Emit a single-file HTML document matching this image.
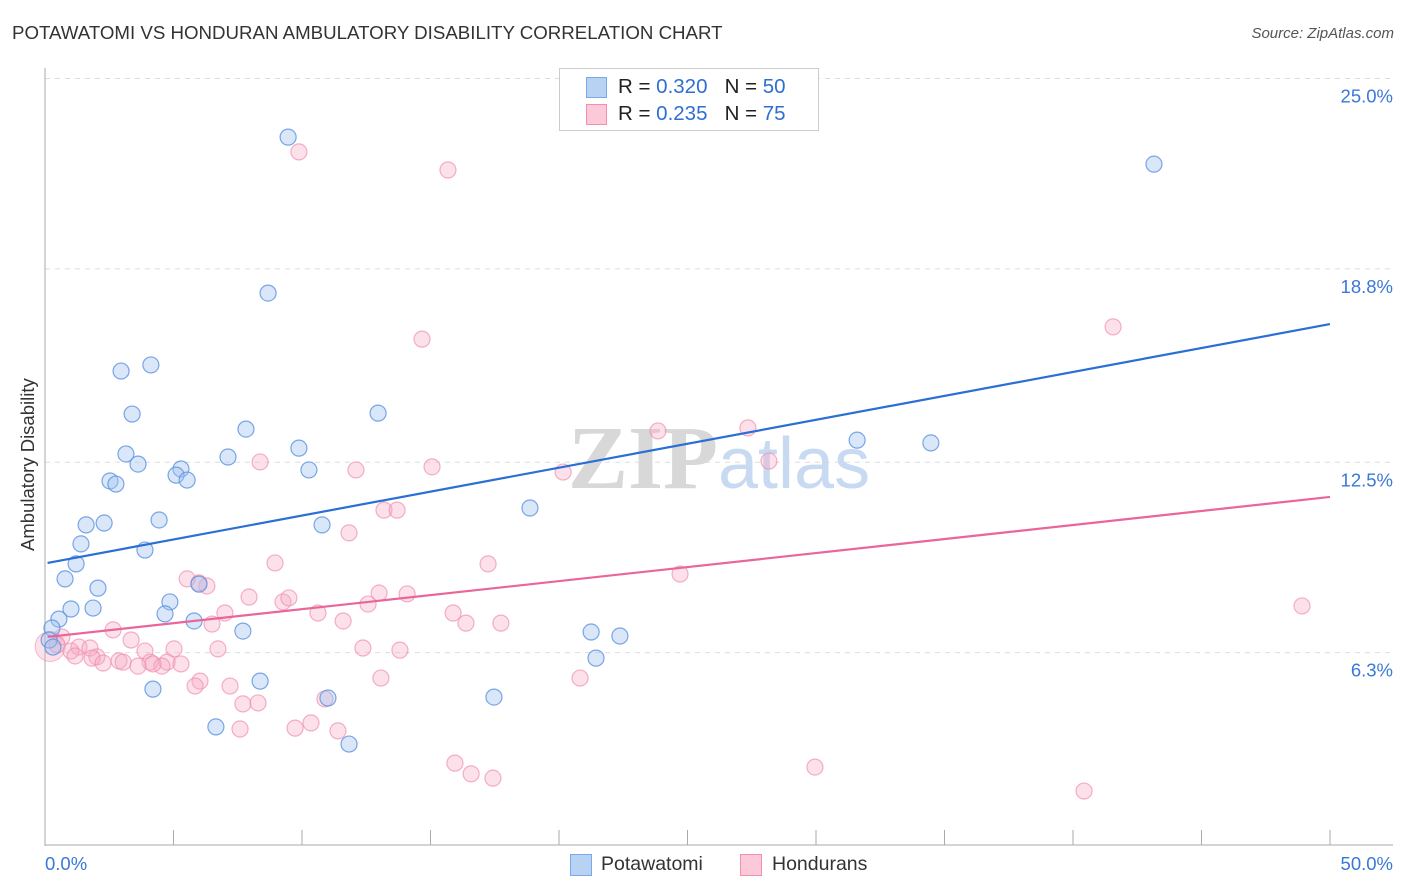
<!DOCTYPE html>
<html><head><meta charset="utf-8">
<style>
body{margin:0;background:#fff;font-family:"Liberation Sans",sans-serif;}
#wrap{position:relative;width:1406px;height:892px;overflow:hidden;}
.t{position:absolute;white-space:nowrap;}
</style></head>
<body>
<div id="wrap">
<div class="t" style="left:12px;top:22px;font-size:18.7px;color:#333;">POTAWATOMI VS HONDURAN AMBULATORY DISABILITY CORRELATION CHART</div>
<div class="t" style="right:12px;top:25px;font-size:15px;color:#555;font-style:italic;">Source: ZipAtlas.com</div>
<div class="t" style="font-size:18.5px;color:#333;transform:rotate(-90deg);transform-origin:0 0;left:17px;top:551px;">Ambulatory Disability</div>
<svg id="svg" width="1406" height="892" style="position:absolute;left:0;top:0;"></svg>
<div style="position:absolute;left:559px;top:68px;width:258px;height:61px;border:1px solid #ccc;background:#fff;">
 <div style="position:absolute;left:26px;top:8px;width:19px;height:19px;background:#b8d2f4;border:1px solid #7aaae6;"></div>
 <div class="t" style="left:58px;top:6px;font-size:20.5px;color:#222;">R = <span style="color:#2f6fd0">0.320</span> &nbsp;&nbsp;N = <span style="color:#2f6fd0">50</span></div>
 <div style="position:absolute;left:26px;top:35px;width:19px;height:19px;background:#fbc9d8;border:1px solid #f08fb0;"></div>
 <div class="t" style="left:58px;top:33px;font-size:20.5px;color:#222;">R = <span style="color:#2f6fd0">0.235</span> &nbsp;&nbsp;N = <span style="color:#2f6fd0">75</span></div>
</div>
<div style="position:absolute;left:570px;top:854px;width:20px;height:20px;background:#b8d2f4;border:1px solid #7aaae6;"></div>
<div class="t" style="left:601px;top:853px;font-size:19.5px;color:#333;">Potawatomi</div>
<div style="position:absolute;left:740px;top:854px;width:20px;height:20px;background:#fbc9d8;border:1px solid #f08fb0;"></div>
<div class="t" style="left:772px;top:853px;font-size:19.5px;color:#333;">Hondurans</div>
</div>
<script>
const blueX=[9.46,43.15,8.68,4.12,2.96,3.39,12.96,7.82,9.88,3.15,3.62,7.12,5.29,5.10,5.53,10.27,2.53,2.76,18.87,2.30,1.60,4.44,10.78,1.40,3.89,1.21,0.78,2.06,5.99,4.86,1.01,1.87,4.67,0.54,5.80,0.27,7.70,21.25,22.37,0.16,0.31,21.44,8.37,4.20,11.01,17.47,6.65,11.83,31.60,34.47];
const blueY=[23.09,22.21,18.01,15.67,15.47,14.07,14.10,13.58,12.96,12.77,12.44,12.67,12.28,12.08,11.92,12.25,11.89,11.79,11.01,10.52,10.46,10.62,10.46,9.84,9.64,9.19,8.70,8.40,8.53,7.95,7.72,7.75,7.56,7.39,7.33,7.10,7.00,6.97,6.84,6.71,6.48,6.12,5.37,5.11,4.82,4.85,3.88,3.32,13.22,13.13];
const pinkX=[9.88,15.68,14.67,41.56,23.85,27.35,28.17,8.37,12.10,15.06,20.16,13.19,13.70,11.83,8.95,17.24,24.71,5.53,6.30,5.99,7.94,9.26,9.49,13.00,14.09,12.57,10.62,15.88,7.00,16.38,17.74,11.60,6.50,48.91,2.65,3.35,0.66,0.47,1.32,1.75,1.01,3.89,5.02,6.73,12.37,13.81,2.02,1.17,1.83,2.26,2.88,3.04,4.09,4.75,5.29,3.62,4.55,4.20,6.03,5.84,7.20,13.07,20.82,7.70,8.29,10.89,7.59,9.73,10.35,11.40,15.95,16.58,17.43,29.96,40.43];
const pinkY=[22.61,22.02,16.51,16.91,13.52,13.62,12.54,12.51,12.25,12.35,12.18,10.94,10.94,10.20,9.22,9.19,8.86,8.70,8.47,8.57,8.11,7.95,8.08,8.24,8.21,7.88,7.59,7.59,7.59,7.26,7.26,7.33,7.23,7.82,7.04,6.71,6.81,6.55,6.48,6.45,6.35,6.35,6.42,6.42,6.45,6.38,6.16,6.19,6.12,5.96,6.03,5.99,5.99,5.99,5.93,5.86,5.86,5.93,5.37,5.21,5.21,5.47,5.47,4.63,4.66,4.79,3.81,3.84,4.01,3.75,2.70,2.35,2.21,2.57,1.79];
const yTicks=[6.3,12.5,18.8,25.0];
const yTickLabels=["6.3%","12.5%","18.8%","25.0%"];
const blueTrend=[9.22,17.0];
const pinkTrend=[6.81,11.37];
const X0=45,X1=1330,YB=846,PPY=30.7;
const sx=v=>X0+(v/50)*(X1-X0);
const sy=v=>YB-v*PPY;
const svg=document.getElementById('svg');
const NS='http://www.w3.org/2000/svg';
function mk(tag,attrs){const e=document.createElementNS(NS,tag);for(const k in attrs)e.setAttribute(k,attrs[k]);svg.appendChild(e);return e;}
yTicks.forEach((t,i)=>{
 const g=mk('line',{x1:X0,x2:1393,y1:sy(t),y2:sy(t),stroke:'#ddd','stroke-dasharray':'5,5'});
 
 
 const tx=mk('text',{x:1393,y:sy(t)+24,'text-anchor':'end','font-size':18.5,fill:'#3a78d8','font-family':'Liberation Sans, sans-serif'});
 tx.textContent=yTickLabels[i];
 
 
});
let a=mk('line',{x1:X0,x2:X0,y1:68,y2:846,stroke:'#aaa'});


a=mk('line',{x1:X0,x2:1393,y1:845,y2:845,stroke:'#aaa'});


for(let i=0;i<=10;i++){const l=mk('line',{x1:sx(i*5),x2:sx(i*5),y1:830,y2:845,stroke:'#aaa'});
 
 }
[[0,'0.0%','start',45],[50,'50.0%','end',1393]].forEach(d=>{const t=mk('text',{x:d[3],y:870,'text-anchor':d[2],'font-size':18.5,fill:'#3a78d8','font-family':'Liberation Sans, sans-serif'});t.textContent=d[1];
 
 });
let w=mk('text',{x:718,y:488,'text-anchor':'end','font-size':90,fill:'#d8d8d8','font-family':'Liberation Serif, serif','font-weight':'bold'});w.textContent='ZIP';


w=mk('text',{x:718,y:488,'font-size':72,fill:'#c8daf2','font-family':'Liberation Sans, sans-serif'});w.textContent='atlas';


let big=mk('circle',{cx:sx(0.2),cy:sy(6.5),r:15,fill:'rgba(245,170,195,0.35)',stroke:'rgba(240,143,176,0.6)'});


pinkX.forEach((x,i)=>{const c=mk('circle',{cx:sx(x),cy:sy(pinkY[i]),r:8,fill:'rgba(245,170,195,0.35)',stroke:'rgba(240,143,176,0.7)','stroke-width':1.2});
 
 });
blueX.forEach((x,i)=>{const c=mk('circle',{cx:sx(x),cy:sy(blueY[i]),r:8,fill:'rgba(160,195,240,0.4)',stroke:'rgba(90,145,225,0.8)','stroke-width':1.2});
 
 });
let tl=mk('line',{x1:sx(0.1),y1:sy(blueTrend[0]),x2:sx(50),y2:sy(blueTrend[1]),stroke:'#2a6fd6','stroke-width':2.2});


tl=mk('line',{x1:sx(0.1),y1:sy(pinkTrend[0]),x2:sx(50),y2:sy(pinkTrend[1]),stroke:'#e8669a','stroke-width':2.2});


</script>
</body></html>
